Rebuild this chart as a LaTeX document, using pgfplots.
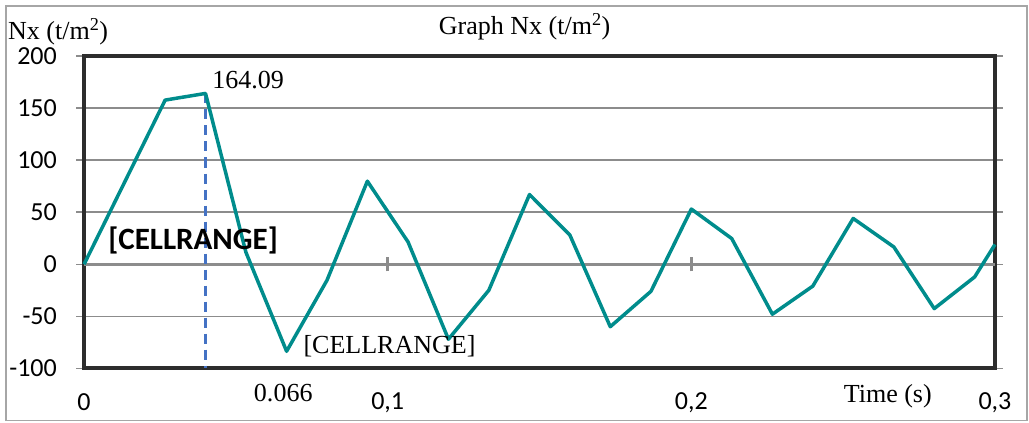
\documentclass[border=0pt]{standalone}
\usepackage{pgfplots}
\pgfplotsset{compat=1.18}
\usepackage{fontspec}
\setmainfont{Liberation Serif}
\newfontfamily\calfont{Carlito}
\definecolor{tealline}{RGB}{0,140,140}
\definecolor{dblue}{RGB}{68,114,196}
\definecolor{framec}{RGB}{45,45,45}
\definecolor{gridc}{RGB}{140,140,140}
\begin{document}
\begin{tikzpicture}
\begin{axis}[
  width=910pt, height=312pt, scale only axis,
  xmin=0, xmax=0.3, ymin=-100, ymax=200,
  clip=false,
  axis line style={framec, line width=3.8pt},
  xtick={0,0.1,0.2,0.3}, xticklabels={0,{0,1},{0,2},{0,3}},
  ytick={-100,-50,0,50,100,150,200},
  yticklabels={-100,-50,0,50,100,150,200},
  ymajorgrids, grid style={gridc, line width=1.5pt},
  x tick style={draw=none},
  y tick style={gridc, line width=1.5pt},
  tick align=outside, major tick length=8pt,
  /pgf/number format/assume math mode=true,
  ticklabel style={font=\calfont\fontsize{26}{26}\selectfont},
  xticklabel style={anchor=center, yshift=-26pt},
  yticklabel style={anchor=east, inner sep=0pt, xshift=-19pt},
]
\draw[gridc, line width=3pt] (axis cs:0,0) -- (axis cs:0.3,0);
\draw[gridc, line width=2.5pt] ([yshift=-7pt]axis cs:0.1,0) -- ([yshift=7pt]axis cs:0.1,0);
\draw[gridc, line width=2.5pt] ([yshift=-7pt]axis cs:0.2,0) -- ([yshift=7pt]axis cs:0.2,0);
\addplot[dblue, line width=2.5pt, dash pattern=on 10pt off 6pt] coordinates {(0.04,164.09) (0.04,-100)};
\addplot[tealline, line width=3.5pt, line join=round] coordinates {
(0,0) (0.0267,157.7) (0.04,164.09) (0.0533,11.5) (0.0667,-83.6) (0.08,-15.4)
(0.0933,79.8) (0.1067,21.4) (0.12,-72) (0.1333,-25) (0.1467,67) (0.16,28)
(0.1733,-60) (0.1867,-26) (0.2,53) (0.2133,24.7) (0.2267,-48) (0.24,-21)
(0.2533,44) (0.2667,16.6) (0.28,-42.6) (0.2933,-12.2) (0.3,19)};
\node[font=\fontsize{26}{26}\selectfont, anchor=center] at (axis cs:0.1451,227.9) {Graph Nx (t/m\textsuperscript{2})};
\node[font=\fontsize{26}{26}\selectfont, anchor=west, inner sep=0pt] at (axis cs:-0.02506,223) {Nx (t/m\textsuperscript{2})};
\node[font=\fontsize{26}{26}\selectfont, anchor=west, inner sep=0pt] at (axis cs:0.0422,177) {164.09};
\node[font=\calfont\bfseries\fontsize{31}{31}\selectfont, anchor=west, inner sep=0pt] at (axis cs:0.0079,23) {[CELLRANGE]};
\node[font=\fontsize{26}{26}\selectfont, anchor=west, inner sep=0pt] at (axis cs:0.0722,-78.4) {[CELLRANGE]};
\node[font=\fontsize{26}{26}\selectfont, anchor=center] at (axis cs:0.0656,-124) {0.066};
\node[font=\fontsize{26}{26}\selectfont, anchor=center] at (axis cs:0.2647,-127) {Time (s)};
\draw[gray!70, line width=1.5pt] ([xshift=-78pt,yshift=-52pt]rel axis cs:0,0) rectangle ([xshift=32pt,yshift=50pt]rel axis cs:1,1);
\path ([xshift=-84pt,yshift=-54pt]rel axis cs:0,0) rectangle ([xshift=34pt,yshift=56pt]rel axis cs:1,1);
\end{axis}
\end{tikzpicture}
\end{document}
